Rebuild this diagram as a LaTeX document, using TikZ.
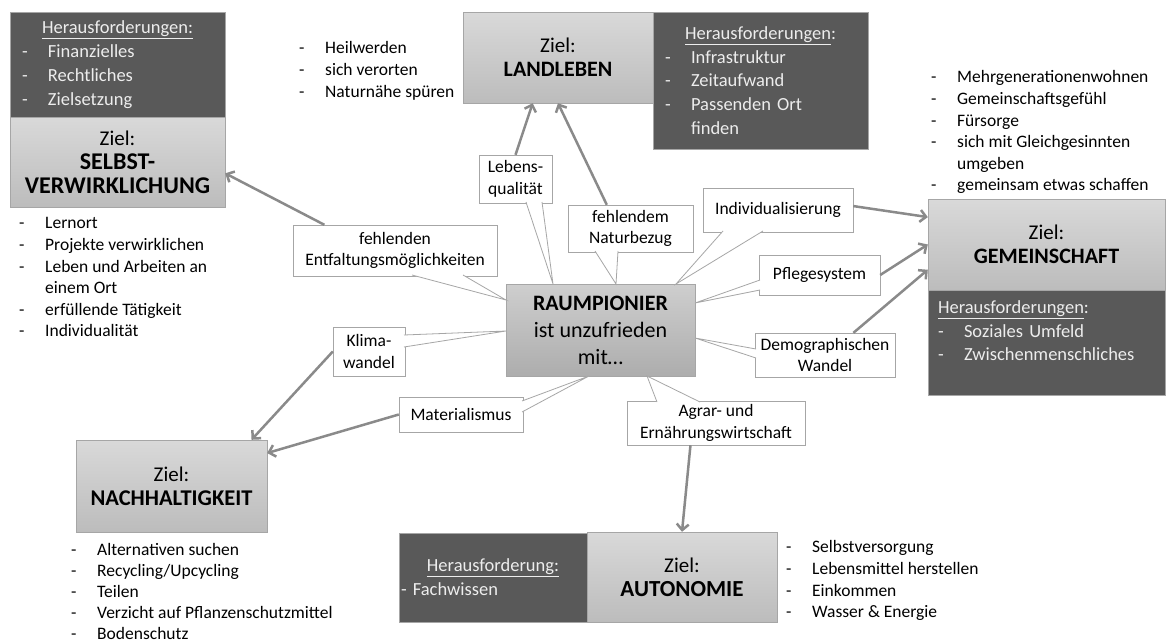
\documentclass[tikz,border=0pt]{standalone}
\usepackage{fontspec}
\setmainfont{Carlito}
\usetikzlibrary{arrows.meta}

\definecolor{hfgrau}{HTML}{595959}
\definecolor{hftext}{HTML}{EDEDED}
\definecolor{zielhell}{HTML}{D9D9D9}
\definecolor{zieldunkel}{HTML}{BCBCBC}
\definecolor{randgrau}{HTML}{A6A6A6}
\definecolor{pfeilgrau}{HTML}{8A8A8A}

\newcommand\kleinschrift{\fontsize{17.5}{21.6}\selectfont}
\newcommand\zielschrift{\fontsize{21}{24}\selectfont}
\newcommand\hfschrift{\fontsize{18.5}{23.8}\selectfont}
\newcommand\raumschrift{\fontsize{22}{27}\selectfont}
\newcommand\strich{\makebox[26pt][l]{-}}
\newcommand\einzug{\hspace*{26pt}}
% bold goal title in its own size
\newcommand\titel[2]{{\fontsize{#1}{24}\selectfont\bfseries #2}}
% wedge of a speech box: base point, tip, base point
\newcommand\zacke[3]{\fill[white] (#1) -- (#2) -- (#3) -- cycle;
  \draw[zeiger] (#1) -- (#2) -- (#3);}

\tikzset{
  ziel/.style={draw=randgrau, top color=zielhell, bottom color=zieldunkel,
    align=center, inner sep=0pt, font=\zielschrift},
  hf/.style={draw=randgrau, fill=hfgrau, text=hftext, align=left,
    inner sep=0pt, font=\hfschrift},
  sprech/.style={draw=randgrau, fill=white, align=center, inner sep=0pt,
    font=\kleinschrift},
  zeiger/.style={draw=randgrau, line width=0.8pt},
  pfeil/.style={draw=pfeilgrau, line width=2.5pt,
    -{Straight Barb[length=6pt,width=12pt]}},
  liste/.style={anchor=north west, align=left, inner sep=0pt,
    font=\kleinschrift}
}

\begin{document}
\begin{tikzpicture}[x=1pt,y=-1pt]
  \useasboundingbox[fill=white] (0,0) rectangle (1167,640);

  % challenge boxes
  \node[hf, minimum width=215pt, minimum height=105pt, text width=191pt]
    (selbsthf) at (117.5,64.5)
    {\makebox[191pt]{\underline{Herausforderungen:}}\\
     \strich Finanzielles\\ \strich Rechtliches\\ \strich Zielsetzung};
  \node[hf, minimum width=215pt, minimum height=137pt, text width=191pt]
    (landhf) at (760.5,80.5)
    {\makebox[191pt]{\underline{Herausforderungen}:}\\
     \strich Infrastruktur\\ \strich Zeitaufwand\\
     \strich Passenden Ort\\ \einzug finden};
  \node[hf, minimum width=237pt, minimum height=105pt, text width=217pt]
    (gemhf) at (1046.5,342.5)
    {\underline{Herausforderungen}:\\
     \strich Soziales Umfeld\\ \strich Zwischenmenschliches\\ \mbox{}};
  \node[hf, minimum width=188pt, minimum height=89pt, text width=184pt]
    (autohf) at (493,577.5)
    {\makebox[184pt]{\underline{Herausforderung:}}\\ - Fachwissen};

  % goal boxes
  \node[ziel, minimum width=215pt, minimum height=90pt] (selbst) at (117.5,162)
    {Ziel:\\ \titel{24}{SELBST-}\\ \titel{24}{VERWIRKLICHUNG}};
  \node[ziel, minimum width=190pt, minimum height=91pt] (land) at (558,57.5)
    {Ziel:\\ \titel{22}{LANDLEBEN}};
  \node[ziel, minimum width=237pt, minimum height=91pt] (gem) at (1046.5,244.5)
    {Ziel:\\ \titel{22}{GEMEINSCHAFT}};
  \node[ziel, minimum width=191pt, minimum height=92pt] (nach) at (171.5,486)
    {Ziel:\\ \titel{22.5}{NACHHALTIGKEIT}};
  \node[ziel, minimum width=190pt, minimum height=90pt] (auto) at (682,577)
    {Ziel:\\ \titel{23}{AUTONOMIE}};

  % the pioneer in the middle
  \node[ziel, font=\raumschrift, minimum width=189pt, minimum height=92pt,
    top color=zielhell!95!black, bottom color=zieldunkel!92!black]
    (raum) at (600.5,330)
    {\textbf{RAUMPIONIER}\\ ist unzufrieden\\ mit\dots};

  % lists of wishes
  \node[liste] (heil) at (299,41.5)
    {\strich Heilwerden\\ \strich sich verorten\\ \strich Naturnähe spüren};
  \node[liste] (selbstl) at (19,217.5)
    {\strich Lernort\\ \strich Projekte verwirklichen\\
     \strich Leben und Arbeiten an\\ \einzug einem Ort\\
     \strich erfüllende Tätigkeit\\ \strich Individualität};
  \node[liste] (geml) at (931,70.5)
    {\strich Mehrgenerationenwohnen\\ \strich Gemeinschaftsgefühl\\
     \strich Fürsorge\\ \strich sich mit Gleichgesinnten\\
     \einzug umgeben\\ \strich gemeinsam etwas schaffen};
  \node[liste, font=\fontsize{17.5}{21}\selectfont] (nachl) at (71,543)
    {\strich Alternativen suchen\\ \strich Recycling/Upcycling\\
     \strich Teilen\\ \strich Verzicht auf Pflanzenschutzmittel\\
     \strich Bodenschutz};
  \node[liste] (autol) at (786,540.5)
    {\strich Selbstversorgung\\ \strich Lebensmittel herstellen\\
     \strich Einkommen\\ \strich Wasser \& Energie};

  % speech boxes
  \node[sprech, minimum width=204pt, minimum height=51pt] (entf) at (395,250.5)
    {fehlenden\\ Entfaltungsmöglichkeiten};
  \node[sprech, minimum width=73pt, minimum height=48pt] (lebens) at (515.5,179)
    {Lebens-\\ qualität};
  \node[sprech, minimum width=125pt, minimum height=47pt] (natur) at (630.5,228.5)
    {fehlendem\\ Naturbezug};
  \node[sprech, minimum width=150pt, minimum height=44pt] (indiv) at (778,210)
    {Individualisierung};
  \node[sprech, minimum width=121pt, minimum height=40pt] (pflege) at (819.5,275)
    {Pflegesystem};
  \node[sprech, minimum width=140pt, minimum height=44pt] (demog) at (825,355)
    {Demographischen\\ Wandel};
  \node[sprech, minimum width=72pt, minimum height=49pt] (klima) at (369,351.5)
    {Klima-\\ wandel};
  \node[sprech, minimum width=124pt, minimum height=35pt] (mat) at (461,414.5)
    {Materialismus};
  \node[sprech, minimum width=178pt, minimum height=44pt] (agrar) at (716,423)
    {Agrar- und\\ Ernährungswirtschaft};

  % wedges towards the pioneer
  \coordinate (entf-a) at (412,275);  \coordinate (entf-b) at (463,275);
  \coordinate (entf-t) at (506,300);
  \coordinate (lebens-a) at (526,202); \coordinate (lebens-b) at (542,202);
  \coordinate (lebens-t) at (553,284);
  \coordinate (natur-a) at (595,251); \coordinate (natur-b) at (618,251);
  \coordinate (natur-t) at (616,284);
  \coordinate (indiv-a) at (723,231); \coordinate (indiv-b) at (763,231);
  \coordinate (indiv-t) at (676,284);
  \coordinate (pflege-a) at (760,280); \coordinate (pflege-b) at (760,290);
  \coordinate (pflege-t) at (695,303);
  \coordinate (demog-a) at (756,349); \coordinate (demog-b) at (756,358);
  \coordinate (demog-t) at (695,338);
  \coordinate (klima-a) at (404,335); \coordinate (klima-b) at (404,347);
  \coordinate (klima-t) at (506,331);
  \coordinate (mat-a) at (522,401); \coordinate (mat-b) at (522,412);
  \coordinate (mat-t) at (589,376);
  \coordinate (agrar-a) at (657,402); \coordinate (agrar-b) at (700,402);
  \coordinate (agrar-t) at (647,376);
  \zacke{entf-a}{entf-t}{entf-b}
  \zacke{lebens-a}{lebens-t}{lebens-b}
  \zacke{natur-a}{natur-t}{natur-b}
  \zacke{indiv-a}{indiv-t}{indiv-b}
  \zacke{pflege-a}{pflege-t}{pflege-b}
  \zacke{demog-a}{demog-t}{demog-b}
  \zacke{klima-a}{klima-t}{klima-b}
  \zacke{mat-a}{mat-t}{mat-b}
  \zacke{agrar-a}{agrar-t}{agrar-b}

  % arrows to the goals
  \draw[pfeil] (entf.160) -- (selbst.-6);
  \draw[pfeil] (lebens.north) -- (land.-119);
  \draw[pfeil] (natur.135) -- (land.south);
  \draw[pfeil] (indiv.3) -- (gem.167);
  \draw[pfeil] (pflege.east) -- (gem.west);
  \draw[pfeil] (demog.38) -- (gem.192);
  \draw[pfeil] (klima.west) -- (nach.30);
  \draw[pfeil] (mat.west) -- (nach.19);
  \draw[pfeil] (agrar.-139) -- (auto.north);
\end{tikzpicture}
\end{document}
